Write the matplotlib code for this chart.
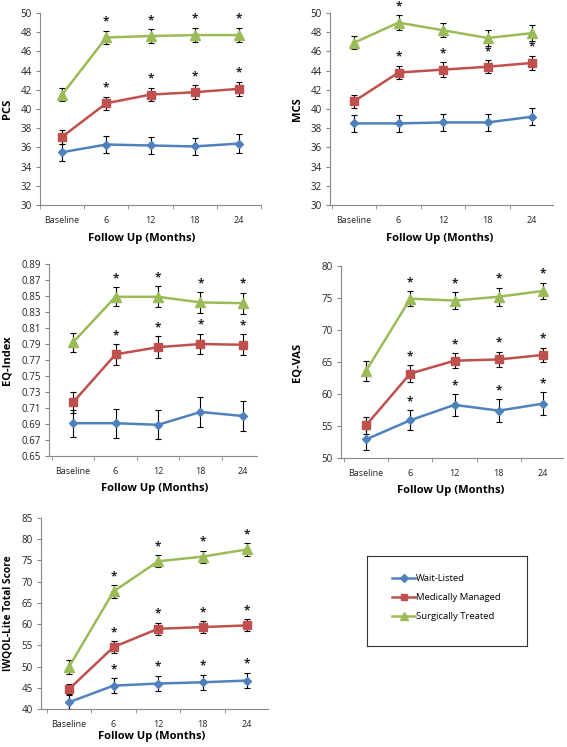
import numpy as np
import matplotlib
matplotlib.use("Agg")
import matplotlib.pyplot as plt
from matplotlib.ticker import FixedLocator

plt.rcParams["font.family"] = ["Open Sans", "DejaVu Sans"]

categories = ["Baseline", "6", "12", "18", "24"]
groups = ["Wait-Listed", "Medically Managed", "Surgically Treated"]
colors = ["#4F81BD", "#C0504D", "#9BBB59"]
markers = ["D", "s", "^"]
marker_sizes = [4.5, 6, 6.5]

# PCS
pcs_wait = [35.5, 36.3, 36.2, 36.1, 36.4]
pcs_wait_err = [0.9, 0.9, 0.9, 0.9, 0.95]
pcs_med = [37.1, 40.6, 41.5, 41.75, 42.1]
pcs_med_err = [0.7, 0.7, 0.7, 0.75, 0.75]
pcs_surg = [41.5, 47.45, 47.6, 47.7, 47.7]
pcs_surg_err = [0.7, 0.7, 0.7, 0.75, 0.75]
pcs_stars = [[], [1, 2, 3, 4], [1, 2, 3, 4]]

# MCS
mcs_wait = [38.5, 38.5, 38.6, 38.6, 39.2]
mcs_wait_err = [0.9, 0.9, 0.85, 0.9, 0.9]
mcs_med = [40.8, 43.8, 44.1, 44.4, 44.8]
mcs_med_err = [0.7, 0.7, 0.75, 0.7, 0.75]
mcs_surg = [46.9, 49.0, 48.2, 47.4, 47.9]
mcs_surg_err = [0.7, 0.75, 0.75, 0.85, 0.85]
mcs_stars = [[], [1, 2, 3, 4], [1]]

# EQ-Index
eqi_wait = [0.691, 0.691, 0.689, 0.705, 0.700]
eqi_wait_err = [0.017, 0.018, 0.018, 0.019, 0.019]
eqi_med = [0.717, 0.777, 0.786, 0.790, 0.789]
eqi_med_err = [0.013, 0.013, 0.014, 0.013, 0.013]
eqi_surg = [0.792, 0.849, 0.849, 0.842, 0.841]
eqi_surg_err = [0.012, 0.012, 0.013, 0.013, 0.013]
eqi_stars = [[], [1, 2, 3, 4], [1, 2, 3, 4]]

# EQ-VAS
vas_wait = [52.9, 55.9, 58.3, 57.4, 58.5]
vas_wait_err = [1.7, 1.6, 1.7, 1.8, 1.8]
vas_med = [55.1, 63.2, 65.2, 65.4, 66.1]
vas_med_err = [1.3, 1.3, 1.2, 1.2, 1.1]
vas_surg = [63.6, 74.9, 74.6, 75.2, 76.1]
vas_surg_err = [1.6, 1.2, 1.3, 1.4, 1.3]
vas_stars = [[1, 2, 3, 4], [1, 2, 3, 4], [1, 2, 3, 4]]

# IWQOL-Lite
iwq_wait = [41.6, 45.5, 46.0, 46.3, 46.7]
iwq_wait_err = [1.6, 1.7, 1.8, 1.8, 1.8]
iwq_med = [44.7, 54.6, 58.9, 59.3, 59.7]
iwq_med_err = [1.2, 1.4, 1.4, 1.4, 1.4]
iwq_surg = [49.95, 67.7, 74.8, 75.9, 77.6]
iwq_surg_err = [1.6, 1.5, 1.4, 1.4, 1.5]
iwq_stars = [[1, 2, 3, 4], [1, 2, 3, 4], [1, 2, 3, 4]]

# layout in pixels: (left, top, right, bottom), x limits, label positions
panels = [
    dict(label="PCS", ylim=(30, 50), step=2, fmt="{:.0f}",
         means=[pcs_wait, pcs_med, pcs_surg],
         errs=[pcs_wait_err, pcs_med_err, pcs_surg_err], stars=pcs_stars,
         box=(40, 13, 261, 205), xlim=(-0.5, 4.5),
         ylab_x=2, xlab=(142, 239), lab_size=8),
    dict(label="MCS", ylim=(30, 50), step=2, fmt="{:.0f}",
         means=[mcs_wait, mcs_med, mcs_surg],
         errs=[mcs_wait_err, mcs_med_err, mcs_surg_err], stars=mcs_stars,
         box=(330, 13, 553, 205), xlim=(-0.54, 4.47),
         ylab_x=292, xlab=(440, 239), lab_size=8),
    dict(label="EQ-Index", ylim=(0.65, 0.89), step=0.02, fmt="{:.2f}",
         means=[eqi_wait, eqi_med, eqi_surg],
         errs=[eqi_wait_err, eqi_med_err, eqi_surg_err], stars=eqi_stars,
         box=(49, 264, 257, 456), xlim=(-0.565, 4.33),
         ylab_x=2, xlab=(155, 489), lab_size=8),
    dict(label="EQ-VAS", ylim=(50, 80), step=5, fmt="{:.0f}",
         means=[vas_wait, vas_med, vas_surg],
         errs=[vas_wait_err, vas_med_err, vas_surg_err], stars=vas_stars,
         box=(341, 266, 563, 458), xlim=(-0.565, 4.45),
         ylab_x=292, xlab=(451, 490), lab_size=8),
    dict(label="IWQOL-Lite Total Score", ylim=(40, 85), step=5, fmt="{:.0f}",
         means=[iwq_wait, iwq_med, iwq_surg],
         errs=[iwq_wait_err, iwq_med_err, iwq_surg_err], stars=iwq_stars,
         box=(41, 518, 268, 709), xlim=(-0.63, 4.47),
         ylab_x=3, xlab=(152, 736), lab_size=7.3),
]

W, H = 567, 747
fig = plt.figure(figsize=(W / 100, H / 100), dpi=100)
x = np.arange(len(categories))
handles = []

for p in panels:
    l, t, r, b = p["box"]
    ax = fig.add_axes([l / W, 1 - b / H, (r - l) / W, (b - t) / H])
    for gi in range(3):
        m = np.array(p["means"][gi])
        e = np.array(p["errs"][gi])
        ax.errorbar(x, m, yerr=e, fmt="none", ecolor="black", elinewidth=0.8,
                    capsize=2.5, capthick=0.8, zorder=2)
        h, = ax.plot(x, m, color=colors[gi], lw=1.8, marker=markers[gi],
                     ms=marker_sizes[gi], mfc=colors[gi], mec=colors[gi], zorder=3)
        if len(handles) < 3:
            handles.append(h)
        for i in p["stars"][gi]:
            ax.annotate("*", (x[i], m[i] + e[i]), xytext=(0, 1.5),
                        textcoords="offset points", ha="center", va="bottom",
                        fontsize=8.5, fontweight="bold", color="#222222")
    lo, hi = p["ylim"]
    ax.set_ylim(lo, hi)
    ax.set_xlim(*p["xlim"])
    yt = np.arange(lo, hi + p["step"] / 2, p["step"])
    ax.set_yticks(yt)
    ax.set_yticklabels([p["fmt"].format(v) for v in yt])
    ax.set_xticks(x)
    ax.set_xticklabels(categories)
    ax.xaxis.set_minor_locator(FixedLocator(np.arange(-0.5, len(categories), 1.0)))
    ax.tick_params(axis="x", which="major", length=0, labelsize=6.5, pad=8,
                   colors="#222222")
    ax.tick_params(axis="x", which="minor", length=3, color="#888888", direction="out")
    ax.tick_params(axis="y", length=3, color="#888888", labelsize=7, pad=3,
                   labelcolor="#222222")
    for s in ["top", "right"]:
        ax.spines[s].set_visible(False)
    for s in ["left", "bottom"]:
        ax.spines[s].set_color("#888888")
        ax.spines[s].set_linewidth(0.8)
    fig.text(p["ylab_x"] / W, 1 - ((t + b) / 2) / H, p["label"], rotation=90,
             ha="left", va="center", fontsize=p["lab_size"], fontweight="bold")
    fig.text(p["xlab"][0] / W, 1 - p["xlab"][1] / H, "Follow Up (Months)",
             ha="center", va="center", fontsize=8, fontweight="bold")

leg_ax = fig.add_axes([367 / W, 1 - 646 / H, 160 / W, 90 / H])
leg_ax.set_xticks([])
leg_ax.set_yticks([])
for s in leg_ax.spines.values():
    s.set_color("#333333")
    s.set_linewidth(0.8)
leg_ax.legend(handles, groups, loc="center left", bbox_to_anchor=(0.156, 0.539),
              frameon=False, fontsize=6.8, borderpad=0, borderaxespad=0,
              handlelength=2.45, handletextpad=0.1, labelspacing=1.05,
              markerscale=0.8)

fig.savefig("out.png", dpi=100)
